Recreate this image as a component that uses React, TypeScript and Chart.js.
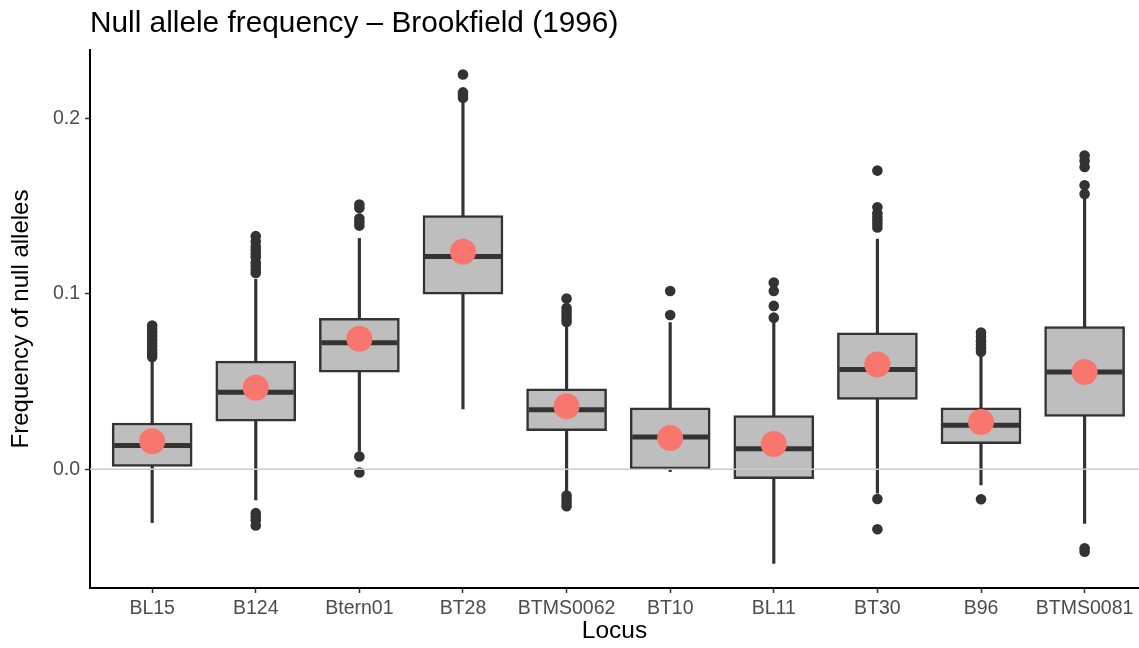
import React, { useEffect, useRef } from "react";
import { Chart, registerables } from "chart.js";

Chart.register(...registerables);

const loci = ["BL15", "B124", "Btern01", "BT28", "BTMS0062", "BT10", "BL11", "BT30", "B96", "BTMS0081"];
const q1 = [0.0016, 0.0274, 0.0554, 0.0999, 0.022, 0.0, -0.0054, 0.0398, 0.0146, 0.0302];
const medians = [0.0136, 0.044, 0.0722, 0.1214, 0.034, 0.0184, 0.0117, 0.0569, 0.0252, 0.0555];
const q3 = [0.0264, 0.0617, 0.0861, 0.1447, 0.0459, 0.035, 0.0306, 0.0779, 0.035, 0.0814];
const whiskerLow = [-0.0304, -0.0175, 0.0102, 0.0344, -0.0127, -0.0013, -0.0537, -0.0136, -0.0089, -0.0308];
const whiskerHigh = [0.0615, 0.1084, 0.1317, 0.2105, 0.0817, 0.0837, 0.0837, 0.1313, 0.0648, 0.1561];
const means = [0.016, 0.0465, 0.0745, 0.1241, 0.0359, 0.0178, 0.0144, 0.0598, 0.027, 0.0555];
const outliersBL15 = [0.064, 0.066, 0.068, 0.07, 0.072, 0.074, 0.076, 0.078, 0.08, 0.082];
const outliersB124 = [0.112, 0.114, 0.116, 0.118, 0.121, 0.123, 0.125, 0.127, 0.13, 0.133, -0.025, -0.027, -0.029, -0.032];
const outliersBtern01 = [0.139, 0.141, 0.143, 0.149, 0.151, 0.0073, -0.0018];
const outliersBT28 = [0.212, 0.2135, 0.215, 0.2252];
const outliersBTMS0062 = [0.084, 0.086, 0.088, 0.09, 0.092, 0.0974, -0.015, -0.017, -0.019, -0.021];
const outliersBT10 = [0.088, 0.1017];
const outliersBL11 = [0.0865, 0.0932, 0.1017, 0.1066];
const outliersBT30 = [0.138, 0.14, 0.142, 0.144, 0.146, 0.1495, 0.1704, -0.0169, -0.0342];
const outliersB96 = [0.067, 0.069, 0.071, 0.073, 0.0755, 0.078, -0.0171];
const outliersBTMS0081 = [0.157, 0.162, 0.1725, 0.176, 0.179, -0.045, -0.047];
const outliers = [
  outliersBL15, outliersB124, outliersBtern01, outliersBT28, outliersBTMS0062,
  outliersBT10, outliersBL11, outliersBT30, outliersB96, outliersBTMS0081,
];
const yTicks = [0, 0.1, 0.2];
const xRange = [0.4, 10.525];
const yRange = [-0.0677, 0.2392];

const FONT = "'Liberation Sans', Arial, Helvetica, sans-serif";

export default function App() {
  const ref = useRef<HTMLCanvasElement>(null);

  useEffect(() => {
    const canvas = ref.current;
    if (!canvas) return;
    const pos = loci.map((_, i) => i + 1);
    const chart = new Chart(canvas, {
      type: "bar",
      data: {
        datasets: [
          {
            type: "line",
            label: "zero",
            data: [{ x: xRange[0], y: 0 }, { x: xRange[1] + 1, y: 0 }],
            borderColor: "#CCCCCC",
            borderWidth: 1.6,
            pointRadius: 0,
            order: 0,
          } as any,
          {
            type: "scatter",
            label: "outliers",
            data: outliers.flatMap((arr, i) => arr.map((v) => ({ x: pos[i], y: v }))),
            pointRadius: 5.3,
            backgroundColor: "#333333",
            borderWidth: 0,
            order: 1,
          } as any,
          {
            type: "scatter",
            label: "mean",
            data: means.map((v, i) => ({ x: pos[i], y: v })),
            pointRadius: 13,
            backgroundColor: "#F8766D",
            borderWidth: 0,
            order: 2,
          } as any,
          {
            type: "scatter",
            label: "median",
            data: medians.map((v, i) => ({ x: pos[i], y: v })),
            pointStyle: "line",
            pointRadius: 38,
            borderColor: "#333333",
            borderWidth: 5,
            order: 3,
          } as any,
          {
            type: "bar",
            label: "box",
            data: loci.map((_, i) => ({ x: pos[i], y: [q1[i], q3[i]] })),
            backgroundColor: "#BEBEBE",
            borderColor: "#333333",
            borderWidth: 2.5,
            borderSkipped: false,
            barThickness: 80,
            grouped: false,
            order: 4,
          } as any,
          {
            type: "bar",
            label: "whisker",
            data: loci.map((_, i) => ({ x: pos[i], y: [whiskerLow[i], whiskerHigh[i]] })),
            backgroundColor: "#333333",
            borderWidth: 0,
            barThickness: 2.5,
            grouped: false,
            order: 5,
          } as any,
        ],
      },
      options: {
        animation: false,
        responsive: false,
        events: [],
        layout: { padding: 0, autoPadding: false },
        plugins: {
          legend: { display: false },
          tooltip: { enabled: false },
          title: {
            display: true,
            text: "Null allele frequency – Brookfield (1996)",
            align: "start",
            fullSize: false,
            color: "#000000",
            font: { family: FONT, size: 29.8, weight: "normal" },
            padding: { top: 5.5, bottom: 8.7 },
          },
        },
        scales: {
          x: {
            type: "linear",
            min: xRange[0],
            max: xRange[1],
            offset: false,
            grid: {
              display: true,
              drawOnChartArea: false,
              drawTicks: true,
              tickLength: 5,
              tickColor: "#333333",
              tickWidth: 1.5,
              offset: false,
            },
            border: { display: true, color: "#000000", width: 2 },
            ticks: {
              autoSkip: false,
              maxRotation: 0,
              padding: 4,
              color: "#4D4D4D",
              font: { family: FONT, size: 19.5 },
              callback: (v: any) => loci[Number(v) - 1] ?? "",
            },
            afterBuildTicks: (s: any) => {
              s.ticks = pos.map((v) => ({ value: v }));
            },
            afterFit: (s: any) => {
              s.height = 60;
              s.paddingLeft = 0;
              s.paddingRight = 0;
            },
            title: {
              display: true,
              text: "Locus",
              color: "#000000",
              font: { family: FONT, size: 24.5 },
              padding: { top: 0, bottom: 2.4 },
            },
          },
          y: {
            type: "linear",
            min: yRange[0],
            max: yRange[1],
            grid: {
              display: true,
              drawOnChartArea: false,
              drawTicks: true,
              tickLength: 5,
              tickColor: "#333333",
              tickWidth: 1.5,
            },
            border: { display: true, color: "#000000", width: 2 },
            ticks: {
              padding: 5,
              color: "#4D4D4D",
              font: { family: FONT, size: 19.5 },
              callback: (v: any) => Number(v).toFixed(1),
            },
            afterBuildTicks: (s: any) => {
              s.ticks = yTicks.map((v) => ({ value: v }));
            },
            afterFit: (s: any) => {
              s.width = 90;
              s.paddingTop = 0;
              s.paddingBottom = 0;
            },
            title: {
              display: true,
              text: "Frequency of null alleles",
              color: "#000000",
              font: { family: FONT, size: 24 },
              padding: { top: 7.2, bottom: 0 },
            },
          },
        },
      } as any,
    });
    return () => chart.destroy();
  }, []);

  return (
    <canvas
      ref={ref}
      width={1139}
      height={648}
      style={{ position: "fixed", left: 0, top: 0, display: "block", background: "#FFFFFF" }}
    />
  );
}
